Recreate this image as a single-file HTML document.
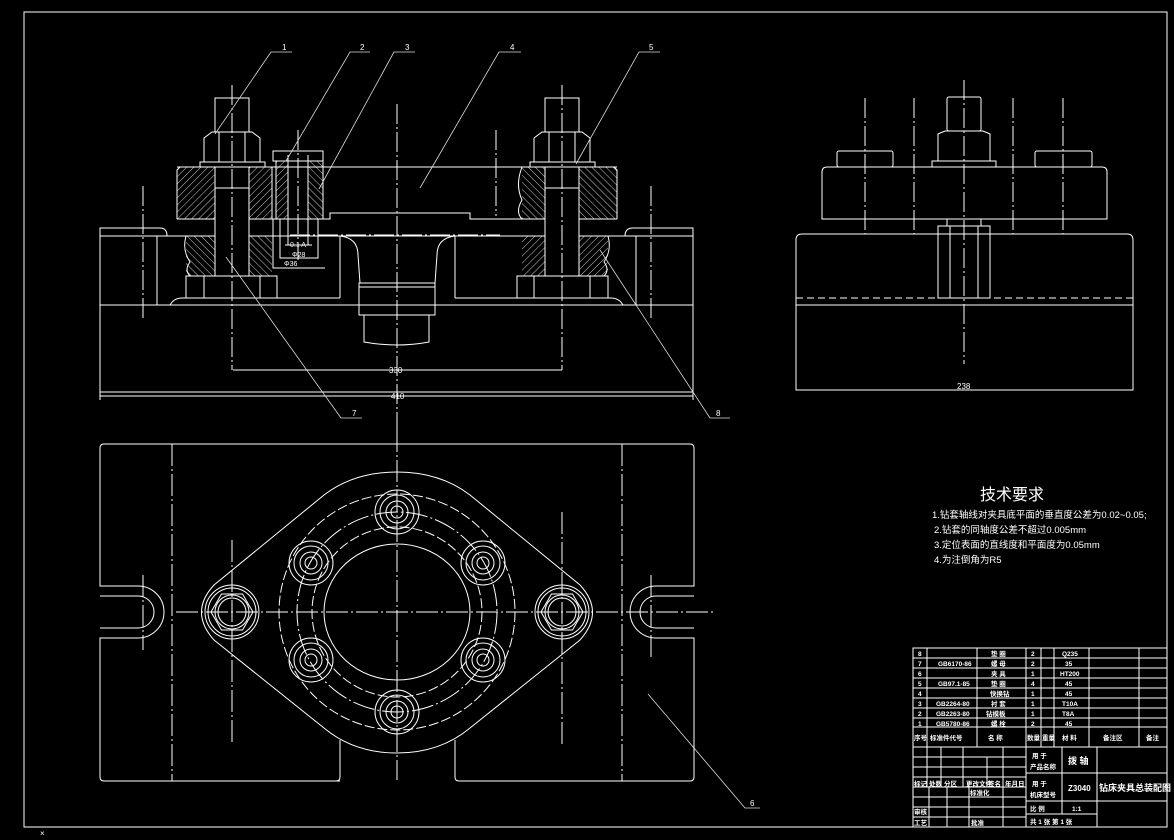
<!DOCTYPE html>
<html><head><meta charset="utf-8"><style>
html,body{margin:0;padding:0;background:#000;}
svg{display:block}
text{fill:#fff;font-family:"Liberation Sans","Noto Sans CJK SC",sans-serif}
</style></head><body>
<svg width="1174" height="840" viewBox="0 0 1174 840" xmlns="http://www.w3.org/2000/svg">
<defs>
<pattern id="h" width="5" height="5" patternUnits="userSpaceOnUse" patternTransform="rotate(45)">
<line x1="0" y1="0" x2="0" y2="5" stroke="#fff" stroke-width="0.8"/></pattern>
<pattern id="h2" width="5" height="5" patternUnits="userSpaceOnUse" patternTransform="rotate(-45)">
<line x1="0" y1="0" x2="0" y2="5" stroke="#fff" stroke-width="0.8"/></pattern>
<g id="sb" fill="none" stroke="#fff" stroke-width="1">
<circle r="22"/><circle r="17"/><circle r="11"/><circle r="6"/>
</g>
<g id="bb" fill="none" stroke="#fff" stroke-width="1">
<circle r="27"/><circle r="24"/>
<polygon points="-21,0 -10.5,-18 10.5,-18 21,0 10.5,18 -10.5,18"/>
<circle r="17"/><circle r="14"/>
</g>
</defs>
<g fill="none" stroke="#fff" stroke-width="1">
<!-- border -->
<rect x="24" y="12" width="1143" height="815"/>

<!-- ===== FRONT VIEW ===== -->
<path d="M100 228 H160 Q167 228 167 236 H100 Z"/>
<path d="M693 228 H633 Q625 228 625 236 H693 Z"/>
<path d="M100 236 H693 V392 H100 Z"/>
<line x1="100" y1="305" x2="693" y2="305"/>
<path d="M100 305 H170 Q174 298 182 298 H340"/>
<path d="M693 305 H623 Q619 298 611 298 H455"/>
<line x1="157" y1="236" x2="157" y2="305"/>
<line x1="636" y1="236" x2="636" y2="305"/>
<line x1="340" y1="236" x2="340" y2="298"/>
<line x1="455" y1="236" x2="455" y2="298"/>
<path d="M340 236 Q358 238 358 255 L360 283"/>
<path d="M455 236 Q437 238 437 255 L435 283"/>
<rect x="359" y="283" width="76" height="4"/>
<rect x="359" y="287" width="76" height="28"/>
<path d="M364 315 V342 Q397 348 429 342 V315"/>
<line x1="177" y1="167" x2="617" y2="167"/>
<path d="M272 213 V219 M272 219 H330 V213 H470 V219 H617"/>
<line x1="177" y1="219" x2="272" y2="219"/>
<rect x="177" y="167" width="95" height="52" fill="url(#h)" stroke="none"/>
<path d="M177 219 V170 L180 167 M272 167 V219"/>
<rect x="522" y="167" width="95" height="52" fill="url(#h2)" stroke="none"/>
<path d="M617 219 V170 L614 167 M522 167 Q515 185 522 200 Q515 212 522 219"/>
<rect x="186" y="236" width="86" height="40" fill="url(#h2)" stroke="none"/>
<rect x="522" y="236" width="86" height="40" fill="url(#h)" stroke="none"/>
<path d="M186 236 Q182 250 190 262 Q184 270 190 276"/>
<path d="M608 236 Q612 250 604 262 Q610 270 604 276"/>
<rect x="215" y="98" width="34" height="34"/>
<path d="M204 162 V138 L212 132 H252 L260 138 V162"/>
<line x1="219" y1="132" x2="219" y2="162"/><line x1="245" y1="132" x2="245" y2="162"/>
<rect x="200" y="162" width="65" height="5"/>
<rect x="215" y="167" width="34" height="109" fill="#000"/>
<line x1="215" y1="188" x2="249" y2="188"/>
<rect x="186" y="276" width="91" height="22"/>
<line x1="204" y1="276" x2="204" y2="298"/><line x1="260" y1="276" x2="260" y2="298"/>
<rect x="545" y="98" width="34" height="34"/>
<path d="M534 162 V138 L542 132 H582 L590 138 V162"/>
<line x1="549" y1="132" x2="549" y2="162"/><line x1="575" y1="132" x2="575" y2="162"/>
<rect x="530" y="162" width="65" height="5"/>
<rect x="545" y="167" width="34" height="109" fill="#000"/>
<line x1="545" y1="188" x2="579" y2="188"/>
<rect x="517" y="276" width="91" height="22"/>
<line x1="534" y1="276" x2="534" y2="298"/><line x1="590" y1="276" x2="590" y2="298"/>
<rect x="273" y="151" width="50" height="10"/>
<rect x="276" y="161" width="12" height="58" fill="url(#h)"/>
<rect x="308" y="161" width="15" height="58" fill="url(#h2)"/>
<path d="M288 155 V245 M308 155 V245 M285 245 H312"/>
<path d="M280 219 V258 H318 V219 M273 219 V268 H325"/>
<g stroke-dasharray="20 3 2 3">
<line x1="232" y1="85" x2="232" y2="370"/>
<line x1="562" y1="85" x2="562" y2="370"/>
<line x1="397" y1="104" x2="397" y2="430"/>
<line x1="143" y1="186" x2="143" y2="318"/>
<line x1="651" y1="186" x2="651" y2="318"/>
<line x1="496" y1="130" x2="496" y2="216"/>
<line x1="298" y1="130" x2="298" y2="260"/>
<line x1="290" y1="235" x2="500" y2="235"/>
</g>
<line x1="233" y1="370" x2="562" y2="370"/>
<line x1="100" y1="396" x2="693" y2="396"/>
<line x1="100" y1="392" x2="100" y2="400"/><line x1="693" y1="392" x2="693" y2="400"/>
<g stroke-width="0.8" stroke="#ddd">
<path d="M292 52 H271 L215 134"/>
<path d="M370 52 H350 L286 161"/>
<path d="M415 52 H394 L319 189"/>
<path d="M521 52 H499 L420 188"/>
<path d="M660 52 H639 L576 164"/>
<path d="M362 418 H341 L226 257"/>
<path d="M730 418 H710 L600 250"/>
<path d="M760 808 H745 L648 694"/>
</g>

<!-- ===== SIDE VIEW ===== -->
<path d="M796 390 V240 Q796 234 802 234 H1127 Q1133 234 1133 240 V390 Z"/>
<line x1="796" y1="298" x2="1133" y2="298" stroke-dasharray="7 4"/>
<line x1="796" y1="305" x2="1133" y2="305"/>
<line x1="796" y1="390" x2="1133" y2="390"/>
<path d="M822 219 V172 Q822 167 827 167 H1102 Q1107 167 1107 172 V219 Z"/>
<rect x="837" y="151" width="56" height="16" rx="2"/>
<rect x="1035" y="151" width="57" height="16" rx="2"/>
<rect x="932" y="161" width="64" height="6"/>
<path d="M938 161 V134 L945 131 H983 L990 134 V161"/>
<rect x="947" y="97" width="34" height="34" rx="2"/>
<rect x="947" y="219" width="34" height="7"/>
<rect x="938" y="226" width="52" height="72"/>
<line x1="950" y1="226" x2="950" y2="298"/><line x1="978" y1="226" x2="978" y2="298"/>
<g stroke-dasharray="20 3 2 3">
<line x1="865" y1="98" x2="865" y2="234"/>
<line x1="914" y1="98" x2="914" y2="234"/>
<line x1="964" y1="80" x2="964" y2="364"/>
<line x1="1013" y1="98" x2="1013" y2="234"/>
<line x1="1063" y1="98" x2="1063" y2="234"/>
</g>

<!-- ===== PLAN VIEW ===== -->
<path d="M340 781 H104 Q100 781 100 777 V638 H138 A26 26 0 0 0 138 586 H100 V448 Q100 444 104 444 H690 Q694 444 694 448 V586 H656 A26 26 0 0 0 656 638 H694 V777 Q694 781 690 781 H459 Q455 781 455 777 V740"/>
<path d="M340 740 V777 Q340 781 336 781"/>
<path d="M100 628 H138 A16 16 0 0 0 138 596 H100"/>
<path d="M694 628 H656 A16 16 0 0 1 656 596 H694"/>
<path d="M397 472 Q440 472 470 495 L580 585 Q605 612 580 640 L470 728 Q440 753 397 753 Q354 753 324 728 L214 640 Q189 612 214 585 L324 495 Q354 472 397 472 Z"/>
<ellipse cx="397" cy="612" rx="73" ry="68"/>
<g stroke-dasharray="10 3">
<circle cx="397" cy="612" r="85"/>
<circle cx="397" cy="612" r="118"/>
</g>
<circle cx="397" cy="612" r="100" stroke-dasharray="22 3 2 3"/>
<g stroke-dasharray="22 3 2 3">
<line x1="397" y1="430" x2="397" y2="780"/>
<line x1="176" y1="612" x2="716" y2="612"/>
<line x1="172" y1="444" x2="172" y2="781"/>
<line x1="622" y1="444" x2="622" y2="781"/>
<line x1="232" y1="540" x2="232" y2="745"/>
<line x1="562" y1="512" x2="562" y2="745"/>
<line x1="143" y1="575" x2="143" y2="650"/>
<line x1="651" y1="575" x2="651" y2="660"/>
</g>

<!-- ===== TITLE BLOCK ===== -->
<rect x="913" y="648" width="254" height="179"/>
<line x1="913" y1="658" x2="1167" y2="658"/><line x1="913" y1="668" x2="1167" y2="668"/>
<line x1="913" y1="678" x2="1167" y2="678"/><line x1="913" y1="688" x2="1167" y2="688"/>
<line x1="913" y1="698" x2="1167" y2="698"/><line x1="913" y1="708" x2="1167" y2="708"/>
<line x1="913" y1="718" x2="1167" y2="718"/><line x1="913" y1="727" x2="1167" y2="727"/>
<line x1="913" y1="747" x2="1167" y2="747"/>
<line x1="927" y1="648" x2="927" y2="747"/><line x1="977" y1="648" x2="977" y2="747"/>
<line x1="1026" y1="648" x2="1026" y2="827"/><line x1="1041" y1="648" x2="1041" y2="747"/>
<line x1="1054" y1="648" x2="1054" y2="747"/><line x1="1089" y1="648" x2="1089" y2="747"/>
<line x1="1139" y1="648" x2="1139" y2="747"/>
<line x1="913" y1="757" x2="1026" y2="757"/><line x1="913" y1="767" x2="1026" y2="767"/>
<line x1="913" y1="777" x2="1026" y2="777"/><line x1="913" y1="787" x2="1026" y2="787"/>
<line x1="913" y1="797" x2="1026" y2="797"/><line x1="913" y1="807" x2="1026" y2="807"/>
<line x1="913" y1="817" x2="1026" y2="817"/>
<line x1="927" y1="747" x2="927" y2="787"/><line x1="941" y1="747" x2="941" y2="787"/>
<line x1="963" y1="747" x2="963" y2="787"/><line x1="987" y1="757" x2="987" y2="787"/>
<line x1="1003" y1="747" x2="1003" y2="827"/>
<line x1="929" y1="787" x2="929" y2="827"/><line x1="947" y1="787" x2="947" y2="827"/>
<line x1="969" y1="787" x2="969" y2="827"/>
<line x1="1062" y1="747" x2="1062" y2="814"/><line x1="1097" y1="747" x2="1097" y2="827"/>
<line x1="1026" y1="773" x2="1167" y2="773"/><line x1="1026" y1="801" x2="1167" y2="801"/>
<line x1="1026" y1="814" x2="1097" y2="814"/>
</g>
<use href="#sb" x="397" y="512"/>
<use href="#sb" x="397" y="712"/>
<use href="#sb" x="311" y="563"/>
<use href="#sb" x="483" y="563"/>
<use href="#sb" x="311" y="660"/>
<use href="#sb" x="483" y="660"/>
<use href="#bb" x="232" y="612"/>
<use href="#bb" x="562" y="612"/>

<g font-size="8">
<text x="282" y="50">1</text><text x="360" y="50">2</text><text x="405" y="50">3</text>
<text x="510" y="50">4</text><text x="649" y="50">5</text><text x="352" y="416">7</text>
<text x="716" y="416">8</text><text x="750" y="806">6</text>
<text x="389" y="373">330</text><text x="391" y="399">410</text><text x="957" y="389">238</text>
<text x="290" y="247" font-size="7">0.1 A</text><text x="292" y="257" font-size="7">Φ28</text><text x="284" y="266" font-size="7">Φ36</text>
</g>
<text x="980" y="500" font-size="16">技术要求</text>
<g font-size="9.5">
<text x="932" y="518">1.钻套轴线对夹具底平面的垂直度公差为0.02~0.05;</text>
<text x="934" y="533">2.钻套的同轴度公差不超过0.005mm</text>
<text x="934" y="548">3.定位表面的直线度和平面度为0.05mm</text>
<text x="934" y="563">4.为注倒角为R5</text>
</g>
<g font-size="6.5" font-weight="bold">
<text x="918" y="656">8</text><text x="991" y="656">垫 圈</text><text x="1031" y="656">2</text><text x="1062" y="656">Q235</text>
<text x="918" y="666">7</text><text x="938" y="666">GB6170-86</text><text x="991" y="666">螺 母</text><text x="1031" y="666">2</text><text x="1065" y="666">35</text>
<text x="918" y="676">6</text><text x="991" y="676">夹 具</text><text x="1031" y="676">1</text><text x="1060" y="676">HT200</text>
<text x="918" y="686">5</text><text x="938" y="686">GB97.1-85</text><text x="991" y="686">垫 圈</text><text x="1031" y="686">4</text><text x="1065" y="686">45</text>
<text x="918" y="696">4</text><text x="990" y="696">快换钻</text><text x="1031" y="696">1</text><text x="1065" y="696">45</text>
<text x="918" y="706">3</text><text x="936" y="706">GB2264-80</text><text x="991" y="706">衬 套</text><text x="1031" y="706">1</text><text x="1062" y="706">T10A</text>
<text x="918" y="716">2</text><text x="936" y="716">GB2263-80</text><text x="986" y="716">钻模板</text><text x="1031" y="716">1</text><text x="1062" y="716">T8A</text>
<text x="918" y="726">1</text><text x="936" y="726">GB5780-86</text><text x="991" y="726">螺 栓</text><text x="1031" y="726">2</text><text x="1065" y="726">45</text>
<text x="914" y="740">序号</text><text x="930" y="740">标准件代号</text><text x="988" y="740">名 称</text><text x="1027" y="740">数量</text><text x="1042" y="740">重量</text><text x="1062" y="740">材 料</text><text x="1103" y="740">备注区</text><text x="1146" y="740">备注</text>
<text x="914" y="786">标记</text><text x="929" y="786">处数</text><text x="944" y="786">分区</text><text x="966" y="786">更改文件</text><text x="988" y="786">签名</text><text x="1005" y="786">年月日</text>
<text x="970" y="795">标准化</text><text x="914" y="814">审核</text><text x="914" y="825">工艺</text><text x="971" y="825">批准</text>
<text x="1032" y="758">用  于</text><text x="1030" y="769">产品名称</text><text x="1068" y="764" font-size="9">拨 轴</text>
<text x="1032" y="786">用  于</text><text x="1030" y="797">机床型号</text><text x="1068" y="791" font-size="8">Z3040</text>
<text x="1099" y="791" font-size="9">钻床夹具总装配图</text>
<text x="1030" y="811">比  例</text><text x="1072" y="811">1:1</text>
<text x="1030" y="824">共 1 张  第 1 张</text>
</g>
<text x="40" y="836" font-size="8">×</text>
</svg>
</body></html>
